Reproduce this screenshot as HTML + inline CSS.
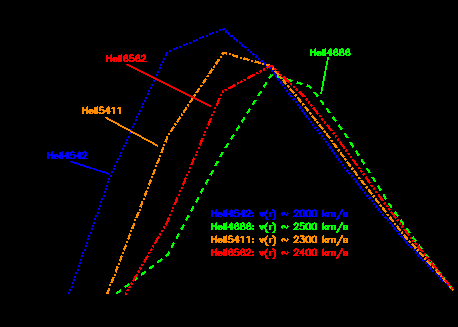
<!DOCTYPE html>
<html><head><meta charset="utf-8"><title>HeII line profiles</title>
<style>html,body{margin:0;padding:0;background:#000;}body{width:458px;height:327px;overflow:hidden;font-family:"Liberation Sans",sans-serif;}svg{display:block}</style></head>
<body>
<svg width="458" height="327" viewBox="0 0 458 327" shape-rendering="crispEdges">
<desc>HeII4542: v(r) ~ 2000 km/s; HeII4686: v(r) ~ 2500 km/s; HeII5411: v(r) ~ 2300 km/s; HeII6562: v(r) ~ 2400 km/s</desc>
<rect width="458" height="327" fill="#000"/>
<!-- HeII4542 blue dotted -->
<path fill="#0000ff" d="M223 28h2v1h-2zM219 29h2v1h-2zM222 29h3v1h-3zM219 30h2v1h-2zM223 30h1v1h-1zM225 30h2v1h-2zM216 31h2v1h-2zM225 31h2v1h-2zM212 32h2v1h-2zM216 32h2v1h-2zM225 32h2v1h-2zM228 32h1v1h-1zM209 33h2v1h-2zM212 33h2v1h-2zM227 33h3v1h-3zM209 34h2v1h-2zM228 34h2v1h-2zM206 35h2v1h-2zM230 35h3v1h-3zM202 36h2v1h-2zM206 36h2v1h-2zM230 36h3v1h-3zM199 37h2v1h-2zM202 37h2v1h-2zM233 37h2v1h-2zM199 38h2v1h-2zM233 38h2v1h-2zM196 39h2v1h-2zM234 39h1v1h-1zM236 39h1v1h-1zM193 40h2v1h-2zM196 40h2v1h-2zM236 40h2v1h-2zM193 41h2v1h-2zM236 41h2v1h-2zM239 41h1v1h-1zM189 42h2v1h-2zM239 42h2v1h-2zM186 43h2v1h-2zM189 43h2v1h-2zM239 43h2v1h-2zM183 44h2v1h-2zM186 44h2v1h-2zM241 44h2v1h-2zM183 45h2v1h-2zM241 45h3v1h-3zM179 46h2v1h-2zM242 46h1v1h-1zM244 46h2v1h-2zM176 47h2v1h-2zM179 47h2v1h-2zM244 47h3v1h-3zM173 48h2v1h-2zM176 48h2v1h-2zM245 48h1v1h-1zM173 49h2v1h-2zM247 49h2v1h-2zM169 50h2v1h-2zM247 50h2v1h-2zM169 51h2v1h-2zM250 51h2v1h-2zM166 52h2v1h-2zM250 52h2v1h-2zM166 53h2v1h-2zM252 53h2v1h-2zM165 54h2v1h-2zM252 54h3v1h-3zM165 55h2v1h-2zM253 55h1v1h-1zM256 55h1v1h-1zM255 56h3v1h-3zM255 57h2v1h-2zM163 58h2v1h-2zM258 58h2v1h-2zM163 59h2v1h-2zM258 59h2v1h-2zM261 60h2v1h-2zM162 61h2v1h-2zM260 61h3v1h-3zM162 62h2v1h-2zM263 62h2v1h-2zM264 63h2v1h-2zM160 64h2v1h-2zM264 64h1v1h-1zM160 65h2v1h-2zM266 66h1v1h-1zM159 67h2v1h-2zM270 67h1v1h-1zM159 68h2v1h-2zM269 68h2v1h-2zM271 70h2v1h-2zM157 71h2v1h-2zM271 71h2v1h-2zM157 72h2v1h-2zM274 72h1v1h-1zM273 73h3v1h-3zM156 74h2v1h-2zM273 74h2v1h-2zM156 75h2v1h-2zM275 75h2v1h-2zM275 76h2v1h-2zM155 77h1v1h-1zM276 77h1v1h-1zM278 78h2v1h-2zM277 79h3v1h-3zM153 80h2v1h-2zM278 80h1v1h-1zM153 81h2v1h-2zM280 81h2v1h-2zM280 82h2v1h-2zM280 83h1v1h-1zM151 84h2v1h-2zM282 84h2v1h-2zM151 85h2v1h-2zM282 85h2v1h-2zM150 87h2v1h-2zM284 87h2v1h-2zM150 88h2v1h-2zM284 88h2v1h-2zM287 89h1v1h-1zM148 90h2v1h-2zM286 90h2v1h-2zM148 91h2v1h-2zM286 91h2v1h-2zM289 92h1v1h-1zM147 93h2v1h-2zM288 93h3v1h-3zM147 94h2v1h-2zM288 94h2v1h-2zM290 95h2v1h-2zM290 96h3v1h-3zM145 97h2v1h-2zM145 98h2v1h-2zM293 98h2v1h-2zM292 99h3v1h-3zM144 100h2v1h-2zM293 100h1v1h-1zM144 101h2v1h-2zM295 101h2v1h-2zM295 102h2v1h-2zM142 103h2v1h-2zM142 104h2v1h-2zM297 104h2v1h-2zM297 105h2v1h-2zM141 106h2v1h-2zM300 106h1v1h-1zM141 107h2v1h-2zM299 107h2v1h-2zM299 108h2v1h-2zM302 109h1v1h-1zM139 110h2v1h-2zM301 110h3v1h-3zM139 111h2v1h-2zM301 111h2v1h-2zM303 112h2v1h-2zM138 113h2v1h-2zM303 113h3v1h-3zM138 114h2v1h-2zM304 114h1v1h-1zM306 115h2v1h-2zM136 116h2v1h-2zM305 116h3v1h-3zM136 117h2v1h-2zM306 117h1v1h-1zM308 118h2v1h-2zM135 119h2v1h-2zM308 119h2v1h-2zM135 120h2v1h-2zM310 121h2v1h-2zM310 122h2v1h-2zM133 123h2v1h-2zM313 123h1v1h-1zM133 124h2v1h-2zM312 124h2v1h-2zM312 125h2v1h-2zM132 126h2v1h-2zM315 126h1v1h-1zM132 127h2v1h-2zM314 127h3v1h-3zM314 128h2v1h-2zM130 129h2v1h-2zM317 129h2v1h-2zM131 130h1v1h-1zM316 130h3v1h-3zM317 131h1v1h-1zM129 132h2v1h-2zM319 132h2v1h-2zM129 133h2v1h-2zM318 133h3v1h-3zM319 134h1v1h-1zM321 135h2v1h-2zM128 136h2v1h-2zM321 136h2v1h-2zM128 137h2v1h-2zM321 137h1v1h-1zM323 138h2v1h-2zM126 139h2v1h-2zM323 139h2v1h-2zM126 140h2v1h-2zM325 141h2v1h-2zM125 142h2v1h-2zM325 142h2v1h-2zM125 143h2v1h-2zM328 143h1v1h-1zM327 144h2v1h-2zM123 145h2v1h-2zM327 145h2v1h-2zM123 146h2v1h-2zM330 146h1v1h-1zM329 147h3v1h-3zM122 148h2v1h-2zM329 148h2v1h-2zM122 149h2v1h-2zM332 149h1v1h-1zM331 150h3v1h-3zM52 151h1v1h-1zM62 151h1v1h-1zM67 151h1v1h-1zM71 151h3v1h-3zM79 151h1v1h-1zM84 151h2v1h-2zM331 151h2v1h-2zM47 152h2v1h-2zM51 152h2v1h-2zM59 152h4v1h-4zM66 152h3v1h-3zM70 152h5v1h-5zM78 152h3v1h-3zM82 152h5v1h-5zM120 152h2v1h-2zM333 152h2v1h-2zM47 153h2v1h-2zM51 153h2v1h-2zM59 153h4v1h-4zM65 153h4v1h-4zM70 153h2v1h-2zM77 153h4v1h-4zM82 153h2v1h-2zM85 153h2v1h-2zM120 153h2v1h-2zM333 153h3v1h-3zM47 154h6v1h-6zM54 154h4v1h-4zM59 154h4v1h-4zM65 154h4v1h-4zM70 154h5v1h-5zM77 154h4v1h-4zM82 154h1v1h-1zM85 154h2v1h-2zM334 154h1v1h-1zM47 155h16v1h-16zM64 155h5v1h-5zM70 155h2v1h-2zM73 155h8v1h-8zM84 155h3v1h-3zM119 155h2v1h-2zM336 155h2v1h-2zM47 156h2v1h-2zM51 156h19v1h-19zM74 156h8v1h-8zM83 156h3v1h-3zM119 156h2v1h-2zM335 156h3v1h-3zM47 157h2v1h-2zM51 157h5v1h-5zM57 157h6v1h-6zM66 157h6v1h-6zM73 157h3v1h-3zM78 157h3v1h-3zM82 157h3v1h-3zM336 157h1v1h-1zM47 158h2v1h-2zM51 158h2v1h-2zM54 158h4v1h-4zM59 158h4v1h-4zM66 158h3v1h-3zM70 158h5v1h-5zM78 158h10v1h-10zM117 158h2v1h-2zM338 158h2v1h-2zM117 159h2v1h-2zM338 159h2v1h-2zM338 160h1v1h-1zM70 161h4v1h-4zM116 161h2v1h-2zM340 161h2v1h-2zM71 162h6v1h-6zM116 162h2v1h-2zM340 162h2v1h-2zM74 163h6v1h-6zM77 164h6v1h-6zM342 164h2v1h-2zM80 165h6v1h-6zM114 165h2v1h-2zM342 165h2v1h-2zM83 166h6v1h-6zM114 166h2v1h-2zM86 167h6v1h-6zM344 167h2v1h-2zM89 168h6v1h-6zM113 168h2v1h-2zM344 168h2v1h-2zM93 169h5v1h-5zM113 169h2v1h-2zM347 169h1v1h-1zM96 170h5v1h-5zM346 170h3v1h-3zM99 171h6v1h-6zM111 171h2v1h-2zM346 171h2v1h-2zM102 172h6v1h-6zM111 172h2v1h-2zM348 172h2v1h-2zM105 173h4v1h-4zM348 173h3v1h-3zM108 174h1v1h-1zM349 174h1v1h-1zM110 175h2v1h-2zM351 175h2v1h-2zM110 176h2v1h-2zM351 176h2v1h-2zM351 177h1v1h-1zM108 178h2v1h-2zM353 178h2v1h-2zM108 179h2v1h-2zM353 179h2v1h-2zM356 180h1v1h-1zM107 181h2v1h-2zM355 181h2v1h-2zM107 182h2v1h-2zM355 182h2v1h-2zM357 183h2v1h-2zM357 184h3v1h-3zM106 185h2v1h-2zM358 185h1v1h-1zM106 186h2v1h-2zM360 186h2v1h-2zM359 187h3v1h-3zM105 188h2v1h-2zM360 188h1v1h-1zM105 189h2v1h-2zM362 189h2v1h-2zM362 190h2v1h-2zM104 191h2v1h-2zM365 191h1v1h-1zM104 192h2v1h-2zM364 192h2v1h-2zM364 193h2v1h-2zM367 194h1v1h-1zM103 195h2v1h-2zM366 195h3v1h-3zM103 196h2v1h-2zM366 196h2v1h-2zM369 197h2v1h-2zM101 198h2v1h-2zM368 198h3v1h-3zM101 199h2v1h-2zM369 199h1v1h-1zM371 200h2v1h-2zM100 201h2v1h-2zM371 201h2v1h-2zM100 202h2v1h-2zM373 203h2v1h-2zM373 204h2v1h-2zM99 205h2v1h-2zM376 205h1v1h-1zM99 206h2v1h-2zM375 206h3v1h-3zM375 207h2v1h-2zM98 208h2v1h-2zM378 208h2v1h-2zM98 209h2v1h-2zM216 209h1v1h-1zM226 209h1v1h-1zM231 209h1v1h-1zM235 209h3v1h-3zM243 209h1v1h-1zM248 209h2v1h-2zM267 209h1v1h-1zM272 209h2v1h-2zM295 209h2v1h-2zM302 209h1v1h-1zM308 209h1v1h-1zM314 209h1v1h-1zM323 209h1v1h-1zM341 209h2v1h-2zM377 209h3v1h-3zM211 210h2v1h-2zM215 210h2v1h-2zM223 210h4v1h-4zM230 210h3v1h-3zM234 210h5v1h-5zM242 210h3v1h-3zM246 210h5v1h-5zM266 210h2v1h-2zM272 210h3v1h-3zM294 210h5v1h-5zM300 210h5v1h-5zM306 210h5v1h-5zM312 210h5v1h-5zM322 210h2v1h-2zM341 210h2v1h-2zM378 210h1v1h-1zM211 211h2v1h-2zM215 211h2v1h-2zM223 211h4v1h-4zM229 211h4v1h-4zM234 211h2v1h-2zM241 211h4v1h-4zM246 211h2v1h-2zM249 211h2v1h-2zM265 211h2v1h-2zM273 211h3v1h-3zM293 211h3v1h-3zM297 211h5v1h-5zM303 211h5v1h-5zM309 211h5v1h-5zM315 211h2v1h-2zM322 211h2v1h-2zM340 211h3v1h-3zM380 211h2v1h-2zM97 212h2v1h-2zM211 212h6v1h-6zM218 212h4v1h-4zM223 212h4v1h-4zM229 212h4v1h-4zM234 212h5v1h-5zM241 212h4v1h-4zM246 212h1v1h-1zM249 212h2v1h-2zM252 212h2v1h-2zM259 212h2v1h-2zM262 212h5v1h-5zM269 212h4v1h-4zM274 212h2v1h-2zM282 212h3v1h-3zM287 212h1v1h-1zM294 212h1v1h-1zM297 212h4v1h-4zM303 212h4v1h-4zM309 212h4v1h-4zM315 212h2v1h-2zM322 212h2v1h-2zM325 212h11v1h-11zM340 212h2v1h-2zM343 212h5v1h-5zM380 212h2v1h-2zM97 213h2v1h-2zM211 213h16v1h-16zM228 213h5v1h-5zM234 213h2v1h-2zM237 213h8v1h-8zM248 213h3v1h-3zM252 213h2v1h-2zM259 213h8v1h-8zM269 213h2v1h-2zM274 213h2v1h-2zM281 213h5v1h-5zM287 213h2v1h-2zM296 213h2v1h-2zM299 213h2v1h-2zM303 213h4v1h-4zM309 213h4v1h-4zM315 213h2v1h-2zM322 213h8v1h-8zM331 213h2v1h-2zM334 213h2v1h-2zM339 213h2v1h-2zM343 213h2v1h-2zM346 213h2v1h-2zM383 213h1v1h-1zM211 214h2v1h-2zM215 214h19v1h-19zM238 214h8v1h-8zM247 214h3v1h-3zM260 214h6v1h-6zM269 214h2v1h-2zM274 214h2v1h-2zM281 214h2v1h-2zM284 214h4v1h-4zM295 214h3v1h-3zM299 214h2v1h-2zM303 214h4v1h-4zM309 214h4v1h-4zM315 214h2v1h-2zM322 214h4v1h-4zM327 214h2v1h-2zM331 214h2v1h-2zM334 214h2v1h-2zM339 214h2v1h-2zM343 214h5v1h-5zM382 214h2v1h-2zM95 215h2v1h-2zM211 215h2v1h-2zM215 215h5v1h-5zM221 215h6v1h-6zM230 215h6v1h-6zM237 215h3v1h-3zM242 215h3v1h-3zM246 215h3v1h-3zM252 215h2v1h-2zM260 215h3v1h-3zM264 215h2v1h-2zM269 215h2v1h-2zM274 215h2v1h-2zM282 215h1v1h-1zM286 215h1v1h-1zM294 215h3v1h-3zM299 215h3v1h-3zM303 215h5v1h-5zM309 215h5v1h-5zM315 215h2v1h-2zM322 215h7v1h-7zM331 215h2v1h-2zM334 215h2v1h-2zM338 215h2v1h-2zM343 215h2v1h-2zM346 215h2v1h-2zM382 215h2v1h-2zM95 216h2v1h-2zM211 216h2v1h-2zM215 216h2v1h-2zM218 216h4v1h-4zM223 216h4v1h-4zM230 216h3v1h-3zM234 216h5v1h-5zM242 216h12v1h-12zM261 216h2v1h-2zM265 216h2v1h-2zM269 216h2v1h-2zM274 216h2v1h-2zM293 216h6v1h-6zM300 216h5v1h-5zM306 216h5v1h-5zM312 216h5v1h-5zM322 216h2v1h-2zM325 216h4v1h-4zM331 216h2v1h-2zM334 216h2v1h-2zM337 216h3v1h-3zM343 216h5v1h-5zM385 216h1v1h-1zM265 217h2v1h-2zM274 217h2v1h-2zM337 217h2v1h-2zM384 217h3v1h-3zM94 218h2v1h-2zM265 218h3v1h-3zM273 218h2v1h-2zM336 218h3v1h-3zM385 218h2v1h-2zM94 219h2v1h-2zM266 219h3v1h-3zM272 219h3v1h-3zM336 219h2v1h-2zM387 219h2v1h-2zM387 220h2v1h-2zM387 221h1v1h-1zM93 222h2v1h-2zM389 222h2v1h-2zM93 223h2v1h-2zM389 223h2v1h-2zM392 224h1v1h-1zM92 225h2v1h-2zM391 225h3v1h-3zM92 226h2v1h-2zM392 226h2v1h-2zM394 227h1v1h-1zM91 228h2v1h-2zM393 228h3v1h-3zM91 229h2v1h-2zM394 229h2v1h-2zM396 230h2v1h-2zM396 231h3v1h-3zM90 232h2v1h-2zM399 232h1v1h-1zM90 233h2v1h-2zM398 233h2v1h-2zM398 234h3v1h-3zM88 235h2v1h-2zM401 235h1v1h-1zM88 236h2v1h-2zM400 236h3v1h-3zM401 237h2v1h-2zM87 238h2v1h-2zM403 238h2v1h-2zM87 239h2v1h-2zM403 239h3v1h-3zM404 240h1v1h-1zM405 241h3v1h-3zM86 242h2v1h-2zM405 242h3v1h-3zM86 243h2v1h-2zM406 243h1v1h-1zM407 244h3v1h-3zM85 245h2v1h-2zM408 245h2v1h-2zM85 246h2v1h-2zM410 246h2v1h-2zM410 247h3v1h-3zM411 248h1v1h-1zM84 249h2v1h-2zM413 249h2v1h-2zM84 250h2v1h-2zM413 250h2v1h-2zM416 251h1v1h-1zM82 252h2v1h-2zM415 252h3v1h-3zM82 253h2v1h-2zM415 253h2v1h-2zM418 254h2v1h-2zM81 255h2v1h-2zM417 255h3v1h-3zM81 256h2v1h-2zM418 256h1v1h-1zM420 257h2v1h-2zM420 258h2v1h-2zM80 259h2v1h-2zM422 259h2v1h-2zM80 260h2v1h-2zM422 260h3v1h-3zM423 261h1v1h-1zM79 262h2v1h-2zM425 262h2v1h-2zM79 263h2v1h-2zM425 263h2v1h-2zM428 264h1v1h-1zM78 265h2v1h-2zM427 265h3v1h-3zM78 266h2v1h-2zM427 266h2v1h-2zM430 267h2v1h-2zM429 268h3v1h-3zM77 269h2v1h-2zM430 269h1v1h-1zM77 270h2v1h-2zM432 270h2v1h-2zM432 271h2v1h-2zM75 272h2v1h-2zM75 273h2v1h-2zM435 273h2v1h-2zM435 274h2v1h-2zM437 275h2v1h-2zM74 276h2v1h-2zM437 276h2v1h-2zM74 277h2v1h-2zM440 277h2v1h-2zM439 278h3v1h-3zM73 279h2v1h-2zM440 279h1v1h-1zM73 280h2v1h-2zM442 280h1v1h-1zM442 281h2v1h-2zM72 282h2v1h-2zM72 283h2v1h-2zM445 283h2v1h-2zM447 285h1v1h-1zM71 286h2v1h-2zM448 286h1v1h-1zM71 287h2v1h-2zM69 289h2v1h-2zM69 290h2v1h-2zM68 292h2v1h-2zM68 293h2v1h-2z"/>
<!-- HeII4686 green dashed -->
<path fill="#00ff00" d="M315 48h1v1h-1zM325 48h1v1h-1zM330 48h1v1h-1zM335 48h2v1h-2zM341 48h2v1h-2zM347 48h2v1h-2zM310 49h2v1h-2zM314 49h2v1h-2zM322 49h4v1h-4zM329 49h3v1h-3zM334 49h4v1h-4zM339 49h5v1h-5zM346 49h4v1h-4zM310 50h2v1h-2zM314 50h2v1h-2zM322 50h4v1h-4zM328 50h4v1h-4zM333 50h2v1h-2zM336 50h2v1h-2zM339 50h2v1h-2zM342 50h2v1h-2zM345 50h2v1h-2zM348 50h2v1h-2zM310 51h6v1h-6zM317 51h4v1h-4zM322 51h4v1h-4zM328 51h4v1h-4zM333 51h5v1h-5zM339 51h5v1h-5zM345 51h5v1h-5zM310 52h16v1h-16zM327 52h5v1h-5zM333 52h5v1h-5zM339 52h5v1h-5zM345 52h5v1h-5zM310 53h2v1h-2zM314 53h21v1h-21zM337 53h4v1h-4zM343 53h4v1h-4zM349 53h2v1h-2zM310 54h2v1h-2zM314 54h5v1h-5zM320 54h6v1h-6zM329 54h3v1h-3zM333 54h2v1h-2zM336 54h5v1h-5zM343 54h4v1h-4zM348 54h3v1h-3zM310 55h2v1h-2zM314 55h2v1h-2zM317 55h4v1h-4zM322 55h4v1h-4zM329 55h3v1h-3zM334 55h4v1h-4zM339 55h5v1h-5zM346 55h4v1h-4zM327 57h2v1h-2zM327 58h2v1h-2zM327 59h2v1h-2zM327 60h1v1h-1zM326 61h2v1h-2zM326 62h2v1h-2zM326 63h2v1h-2zM326 64h2v1h-2zM326 65h1v1h-1zM325 66h2v1h-2zM325 67h2v1h-2zM325 68h2v1h-2zM325 69h2v1h-2zM325 70h1v1h-1zM324 71h2v1h-2zM324 72h2v1h-2zM324 73h2v1h-2zM270 74h1v1h-1zM272 74h1v1h-1zM324 74h2v1h-2zM270 75h3v1h-3zM324 75h2v1h-2zM269 76h3v1h-3zM277 76h3v1h-3zM323 76h2v1h-2zM268 77h3v1h-3zM277 77h2v1h-2zM323 77h2v1h-2zM269 78h1v1h-1zM282 78h1v1h-1zM287 78h1v1h-1zM323 78h2v1h-2zM288 79h3v1h-3zM323 79h2v1h-2zM289 80h4v1h-4zM323 80h2v1h-2zM290 81h2v1h-2zM297 81h1v1h-1zM322 81h2v1h-2zM265 82h2v1h-2zM297 82h4v1h-4zM322 82h2v1h-2zM265 83h2v1h-2zM296 83h7v1h-7zM322 83h2v1h-2zM264 84h3v1h-3zM300 84h2v1h-2zM307 84h1v1h-1zM322 84h2v1h-2zM263 85h3v1h-3zM307 85h3v1h-3zM322 85h2v1h-2zM263 86h2v1h-2zM306 86h5v1h-5zM322 86h1v1h-1zM264 87h1v1h-1zM309 87h3v1h-3zM321 87h2v1h-2zM310 88h1v1h-1zM321 88h2v1h-2zM321 89h2v1h-2zM321 90h2v1h-2zM260 91h2v1h-2zM321 91h1v1h-1zM259 92h3v1h-3zM313 92h3v1h-3zM320 92h2v1h-2zM258 93h3v1h-3zM314 93h3v1h-3zM320 93h2v1h-2zM258 94h2v1h-2zM315 94h3v1h-3zM257 95h3v1h-3zM316 95h3v1h-3zM316 96h2v1h-2zM254 100h3v1h-3zM320 100h2v1h-2zM253 101h3v1h-3zM320 101h3v1h-3zM253 102h2v1h-2zM321 102h3v1h-3zM252 103h3v1h-3zM322 103h2v1h-2zM252 104h2v1h-2zM322 104h2v1h-2zM249 108h1v1h-1zM326 108h2v1h-2zM248 109h3v1h-3zM326 109h3v1h-3zM248 110h2v1h-2zM327 110h2v1h-2zM247 111h3v1h-3zM327 111h3v1h-3zM246 112h3v1h-3zM328 112h3v1h-3zM247 113h1v1h-1zM333 116h1v1h-1zM243 117h2v1h-2zM332 117h3v1h-3zM243 118h2v1h-2zM332 118h3v1h-3zM242 119h3v1h-3zM333 119h3v1h-3zM241 120h3v1h-3zM334 120h3v1h-3zM241 121h2v1h-2zM335 121h1v1h-1zM242 122h1v1h-1zM339 124h1v1h-1zM238 125h1v1h-1zM338 125h2v1h-2zM238 126h2v1h-2zM338 126h3v1h-3zM237 127h3v1h-3zM339 127h3v1h-3zM236 128h3v1h-3zM340 128h3v1h-3zM236 129h2v1h-2zM340 129h2v1h-2zM236 130h2v1h-2zM344 133h2v1h-2zM233 134h1v1h-1zM344 134h3v1h-3zM232 135h3v1h-3zM345 135h2v1h-2zM231 136h3v1h-3zM345 136h3v1h-3zM231 137h2v1h-2zM346 137h3v1h-3zM230 138h3v1h-3zM231 139h1v1h-1zM349 142h3v1h-3zM227 143h2v1h-2zM350 143h3v1h-3zM226 144h3v1h-3zM350 144h3v1h-3zM226 145h2v1h-2zM351 145h3v1h-3zM225 146h3v1h-3zM352 146h2v1h-2zM224 147h3v1h-3zM352 147h1v1h-1zM356 150h1v1h-1zM355 151h3v1h-3zM221 152h3v1h-3zM356 152h2v1h-2zM221 153h2v1h-2zM356 153h3v1h-3zM220 154h3v1h-3zM357 154h3v1h-3zM220 155h2v1h-2zM357 155h2v1h-2zM219 156h3v1h-3zM361 159h2v1h-2zM361 160h2v1h-2zM216 161h3v1h-3zM361 161h3v1h-3zM216 162h3v1h-3zM362 162h3v1h-3zM215 163h3v1h-3zM363 163h2v1h-2zM215 164h2v1h-2zM363 164h1v1h-1zM214 165h3v1h-3zM366 168h2v1h-2zM366 169h3v1h-3zM212 170h2v1h-2zM367 170h3v1h-3zM211 171h3v1h-3zM368 171h2v1h-2zM211 172h2v1h-2zM368 172h3v1h-3zM210 173h3v1h-3zM209 174h3v1h-3zM211 175h1v1h-1zM371 177h3v1h-3zM372 178h3v1h-3zM207 179h2v1h-2zM373 179h2v1h-2zM206 180h3v1h-3zM373 180h3v1h-3zM206 181h2v1h-2zM374 181h2v1h-2zM205 182h3v1h-3zM205 183h2v1h-2zM206 184h1v1h-1zM378 185h1v1h-1zM377 186h3v1h-3zM378 187h2v1h-2zM202 188h2v1h-2zM378 188h3v1h-3zM201 189h3v1h-3zM379 189h3v1h-3zM201 190h2v1h-2zM379 190h2v1h-2zM200 191h3v1h-3zM200 192h2v1h-2zM201 193h1v1h-1zM383 194h2v1h-2zM383 195h2v1h-2zM383 196h3v1h-3zM197 197h2v1h-2zM384 197h2v1h-2zM197 198h2v1h-2zM384 198h3v1h-3zM196 199h3v1h-3zM385 199h1v1h-1zM196 200h2v1h-2zM195 201h3v1h-3zM196 202h1v1h-1zM388 203h2v1h-2zM388 204h3v1h-3zM389 205h3v1h-3zM192 206h2v1h-2zM390 206h2v1h-2zM192 207h2v1h-2zM390 207h2v1h-2zM191 208h3v1h-3zM191 209h2v1h-2zM190 210h3v1h-3zM191 211h1v1h-1zM395 211h1v1h-1zM394 212h3v1h-3zM394 213h3v1h-3zM395 214h3v1h-3zM187 215h2v1h-2zM396 215h3v1h-3zM187 216h3v1h-3zM397 216h1v1h-1zM186 217h3v1h-3zM186 218h2v1h-2zM185 219h3v1h-3zM401 219h1v1h-1zM186 220h1v1h-1zM400 220h2v1h-2zM400 221h3v1h-3zM216 222h1v1h-1zM226 222h1v1h-1zM231 222h1v1h-1zM236 222h2v1h-2zM242 222h2v1h-2zM248 222h2v1h-2zM267 222h1v1h-1zM272 222h2v1h-2zM295 222h2v1h-2zM300 222h4v1h-4zM308 222h1v1h-1zM314 222h1v1h-1zM323 222h1v1h-1zM341 222h2v1h-2zM401 222h3v1h-3zM211 223h2v1h-2zM215 223h2v1h-2zM223 223h4v1h-4zM230 223h3v1h-3zM235 223h4v1h-4zM240 223h5v1h-5zM247 223h4v1h-4zM266 223h2v1h-2zM272 223h3v1h-3zM294 223h5v1h-5zM300 223h5v1h-5zM306 223h5v1h-5zM312 223h5v1h-5zM322 223h2v1h-2zM341 223h2v1h-2zM402 223h2v1h-2zM183 224h1v1h-1zM211 224h2v1h-2zM215 224h2v1h-2zM223 224h4v1h-4zM229 224h4v1h-4zM234 224h2v1h-2zM237 224h2v1h-2zM240 224h2v1h-2zM243 224h2v1h-2zM246 224h2v1h-2zM249 224h2v1h-2zM265 224h2v1h-2zM273 224h3v1h-3zM293 224h3v1h-3zM297 224h2v1h-2zM300 224h2v1h-2zM305 224h3v1h-3zM309 224h5v1h-5zM315 224h2v1h-2zM322 224h2v1h-2zM340 224h3v1h-3zM402 224h2v1h-2zM182 225h3v1h-3zM211 225h6v1h-6zM218 225h4v1h-4zM223 225h4v1h-4zM229 225h4v1h-4zM234 225h5v1h-5zM240 225h5v1h-5zM246 225h5v1h-5zM252 225h2v1h-2zM259 225h2v1h-2zM262 225h5v1h-5zM269 225h4v1h-4zM274 225h2v1h-2zM282 225h3v1h-3zM287 225h1v1h-1zM294 225h1v1h-1zM297 225h2v1h-2zM300 225h7v1h-7zM309 225h4v1h-4zM315 225h2v1h-2zM322 225h2v1h-2zM325 225h11v1h-11zM340 225h2v1h-2zM343 225h5v1h-5zM182 226h2v1h-2zM211 226h16v1h-16zM228 226h5v1h-5zM234 226h5v1h-5zM240 226h5v1h-5zM246 226h5v1h-5zM252 226h2v1h-2zM259 226h8v1h-8zM269 226h2v1h-2zM274 226h2v1h-2zM281 226h5v1h-5zM287 226h2v1h-2zM296 226h2v1h-2zM300 226h1v1h-1zM303 226h4v1h-4zM309 226h4v1h-4zM315 226h2v1h-2zM322 226h8v1h-8zM331 226h2v1h-2zM334 226h2v1h-2zM339 226h2v1h-2zM343 226h2v1h-2zM346 226h2v1h-2zM181 227h3v1h-3zM211 227h2v1h-2zM215 227h21v1h-21zM238 227h4v1h-4zM244 227h4v1h-4zM250 227h2v1h-2zM260 227h6v1h-6zM269 227h2v1h-2zM274 227h2v1h-2zM281 227h2v1h-2zM284 227h4v1h-4zM295 227h3v1h-3zM303 227h4v1h-4zM309 227h4v1h-4zM315 227h2v1h-2zM322 227h4v1h-4zM327 227h2v1h-2zM331 227h2v1h-2zM334 227h2v1h-2zM339 227h2v1h-2zM343 227h5v1h-5zM180 228h3v1h-3zM211 228h2v1h-2zM215 228h5v1h-5zM221 228h6v1h-6zM230 228h3v1h-3zM234 228h2v1h-2zM237 228h5v1h-5zM244 228h4v1h-4zM249 228h5v1h-5zM260 228h3v1h-3zM264 228h2v1h-2zM269 228h2v1h-2zM274 228h2v1h-2zM282 228h1v1h-1zM286 228h1v1h-1zM294 228h3v1h-3zM299 228h2v1h-2zM303 228h5v1h-5zM309 228h5v1h-5zM315 228h2v1h-2zM322 228h7v1h-7zM331 228h2v1h-2zM334 228h2v1h-2zM338 228h2v1h-2zM343 228h2v1h-2zM346 228h2v1h-2zM406 228h2v1h-2zM181 229h2v1h-2zM211 229h2v1h-2zM215 229h2v1h-2zM218 229h4v1h-4zM223 229h4v1h-4zM230 229h3v1h-3zM235 229h4v1h-4zM240 229h5v1h-5zM247 229h4v1h-4zM252 229h2v1h-2zM261 229h2v1h-2zM265 229h2v1h-2zM269 229h2v1h-2zM274 229h2v1h-2zM293 229h6v1h-6zM300 229h5v1h-5zM306 229h5v1h-5zM312 229h5v1h-5zM322 229h2v1h-2zM325 229h4v1h-4zM331 229h2v1h-2zM334 229h2v1h-2zM337 229h3v1h-3zM343 229h5v1h-5zM406 229h3v1h-3zM265 230h2v1h-2zM274 230h2v1h-2zM337 230h2v1h-2zM407 230h2v1h-2zM265 231h3v1h-3zM273 231h2v1h-2zM336 231h3v1h-3zM408 231h2v1h-2zM266 232h3v1h-3zM272 232h3v1h-3zM336 232h2v1h-2zM408 232h3v1h-3zM178 233h1v1h-1zM177 234h3v1h-3zM177 235h2v1h-2zM176 236h3v1h-3zM413 236h1v1h-1zM176 237h2v1h-2zM412 237h2v1h-2zM176 238h2v1h-2zM412 238h3v1h-3zM414 239h2v1h-2zM415 240h2v1h-2zM414 241h2v1h-2zM173 242h1v1h-1zM172 243h3v1h-3zM172 244h2v1h-2zM419 244h1v1h-1zM171 245h3v1h-3zM419 245h1v1h-1zM171 246h2v1h-2zM420 246h1v1h-1zM171 247h2v1h-2zM420 247h2v1h-2zM421 248h2v1h-2zM168 251h1v1h-1zM168 252h2v1h-2zM167 253h3v1h-3zM166 254h3v1h-3zM426 254h1v1h-1zM165 255h4v1h-4zM425 255h3v1h-3zM166 256h1v1h-1zM428 256h1v1h-1zM161 258h1v1h-1zM160 259h3v1h-3zM158 260h4v1h-4zM157 261h4v1h-4zM431 261h1v1h-1zM157 262h2v1h-2zM430 262h1v1h-1zM433 263h1v1h-1zM434 264h1v1h-1zM152 265h2v1h-2zM150 266h4v1h-4zM149 267h4v1h-4zM149 268h3v1h-3zM437 269h1v1h-1zM144 271h2v1h-2zM142 272h4v1h-4zM440 272h1v1h-1zM141 273h4v1h-4zM141 274h3v1h-3zM439 274h1v1h-1zM141 275h1v1h-1zM136 277h1v1h-1zM444 277h1v1h-1zM136 278h2v1h-2zM135 279h2v1h-2zM135 280h1v1h-1zM128 283h1v1h-1zM127 284h3v1h-3zM125 285h4v1h-4zM124 286h4v1h-4zM449 286h2v1h-2zM125 287h1v1h-1zM120 289h1v1h-1zM119 290h2v1h-2zM117 291h4v1h-4zM116 292h4v1h-4zM116 293h2v1h-2z"/>
<!-- HeII5411 orange dash-dot -->
<path fill="#ff8c00" d="M222 52h5v1h-5zM221 53h6v1h-6zM229 53h2v1h-2zM222 54h2v1h-2zM226 54h1v1h-1zM229 54h2v1h-2zM232 54h2v1h-2zM232 55h6v1h-6zM220 56h2v1h-2zM233 56h5v1h-5zM220 57h2v1h-2zM236 57h2v1h-2zM240 57h2v1h-2zM244 57h1v1h-1zM240 58h2v1h-2zM243 58h5v1h-5zM217 59h3v1h-3zM243 59h7v1h-7zM217 60h3v1h-3zM247 60h2v1h-2zM251 60h2v1h-2zM255 60h1v1h-1zM216 61h3v1h-3zM251 61h2v1h-2zM255 61h4v1h-4zM215 62h3v1h-3zM254 62h7v1h-7zM215 63h3v1h-3zM258 63h3v1h-3zM262 63h2v1h-2zM216 64h1v1h-1zM262 64h2v1h-2zM266 64h4v1h-4zM214 65h1v1h-1zM266 65h3v1h-3zM213 66h2v1h-2zM213 67h2v1h-2zM273 67h1v1h-1zM211 68h1v1h-1zM272 68h2v1h-2zM211 69h3v1h-3zM272 69h2v1h-2zM210 70h3v1h-3zM209 71h3v1h-3zM274 71h3v1h-3zM209 72h3v1h-3zM275 72h2v1h-2zM208 73h3v1h-3zM276 73h3v1h-3zM277 74h3v1h-3zM207 75h2v1h-2zM277 75h2v1h-2zM206 76h3v1h-3zM280 76h1v1h-1zM279 77h3v1h-3zM205 78h1v1h-1zM280 78h2v1h-2zM204 79h3v1h-3zM283 79h1v1h-1zM203 80h3v1h-3zM282 80h3v1h-3zM203 81h3v1h-3zM283 81h3v1h-3zM202 82h3v1h-3zM283 82h3v1h-3zM203 83h1v1h-1zM284 83h3v1h-3zM285 84h1v1h-1zM200 85h3v1h-3zM287 85h2v1h-2zM200 86h2v1h-2zM287 86h3v1h-3zM288 87h1v1h-1zM198 88h2v1h-2zM290 88h1v1h-1zM197 89h3v1h-3zM289 89h3v1h-3zM197 90h2v1h-2zM290 90h3v1h-3zM196 91h3v1h-3zM291 91h3v1h-3zM195 92h3v1h-3zM292 92h3v1h-3zM293 93h1v1h-1zM194 94h2v1h-2zM295 94h2v1h-2zM193 95h3v1h-3zM294 95h3v1h-3zM194 96h1v1h-1zM295 96h1v1h-1zM297 97h2v1h-2zM191 98h2v1h-2zM297 98h3v1h-3zM191 99h2v1h-2zM298 99h3v1h-3zM190 100h3v1h-3zM298 100h3v1h-3zM189 101h3v1h-3zM299 101h3v1h-3zM189 102h2v1h-2zM300 102h1v1h-1zM302 103h2v1h-2zM187 104h2v1h-2zM302 104h3v1h-3zM187 105h2v1h-2zM302 105h1v1h-1zM87 106h1v1h-1zM97 106h1v1h-1zM100 106h3v1h-3zM108 106h1v1h-1zM188 106h1v1h-1zM305 106h1v1h-1zM82 107h2v1h-2zM86 107h2v1h-2zM94 107h4v1h-4zM99 107h5v1h-5zM107 107h3v1h-3zM112 107h3v1h-3zM118 107h3v1h-3zM185 107h2v1h-2zM304 107h3v1h-3zM82 108h2v1h-2zM86 108h2v1h-2zM94 108h4v1h-4zM99 108h2v1h-2zM106 108h4v1h-4zM111 108h4v1h-4zM117 108h4v1h-4zM185 108h2v1h-2zM305 108h3v1h-3zM82 109h6v1h-6zM89 109h4v1h-4zM94 109h4v1h-4zM99 109h5v1h-5zM106 109h4v1h-4zM113 109h2v1h-2zM119 109h2v1h-2zM184 109h3v1h-3zM306 109h3v1h-3zM82 110h16v1h-16zM99 110h2v1h-2zM102 110h8v1h-8zM113 110h2v1h-2zM119 110h2v1h-2zM183 110h3v1h-3zM306 110h3v1h-3zM82 111h2v1h-2zM86 111h12v1h-12zM103 111h8v1h-8zM113 111h2v1h-2zM119 111h2v1h-2zM183 111h2v1h-2zM307 111h1v1h-1zM82 112h2v1h-2zM86 112h5v1h-5zM92 112h9v1h-9zM102 112h3v1h-3zM107 112h3v1h-3zM113 112h2v1h-2zM119 112h2v1h-2zM183 112h2v1h-2zM309 112h2v1h-2zM82 113h2v1h-2zM86 113h2v1h-2zM89 113h4v1h-4zM94 113h4v1h-4zM99 113h5v1h-5zM107 113h3v1h-3zM113 113h2v1h-2zM119 113h2v1h-2zM181 113h1v1h-1zM309 113h3v1h-3zM181 114h2v1h-2zM310 114h1v1h-1zM181 115h2v1h-2zM312 115h1v1h-1zM179 116h1v1h-1zM311 116h3v1h-3zM105 117h3v1h-3zM179 117h2v1h-2zM312 117h3v1h-3zM106 118h3v1h-3zM178 118h3v1h-3zM313 118h3v1h-3zM107 119h4v1h-4zM177 119h3v1h-3zM314 119h3v1h-3zM109 120h4v1h-4zM177 120h2v1h-2zM314 120h2v1h-2zM111 121h4v1h-4zM176 121h3v1h-3zM316 121h2v1h-2zM113 122h4v1h-4zM177 122h1v1h-1zM316 122h3v1h-3zM115 123h4v1h-4zM174 123h2v1h-2zM317 123h1v1h-1zM117 124h3v1h-3zM174 124h3v1h-3zM319 124h2v1h-2zM118 125h4v1h-4zM175 125h1v1h-1zM318 125h3v1h-3zM120 126h4v1h-4zM173 126h1v1h-1zM319 126h3v1h-3zM122 127h4v1h-4zM172 127h3v1h-3zM320 127h3v1h-3zM124 128h4v1h-4zM171 128h3v1h-3zM321 128h3v1h-3zM126 129h4v1h-4zM171 129h2v1h-2zM322 129h1v1h-1zM128 130h3v1h-3zM170 130h3v1h-3zM324 130h1v1h-1zM130 131h3v1h-3zM170 131h2v1h-2zM323 131h3v1h-3zM131 132h4v1h-4zM324 132h2v1h-2zM133 133h4v1h-4zM168 133h2v1h-2zM326 133h2v1h-2zM135 134h4v1h-4zM168 134h2v1h-2zM326 134h2v1h-2zM137 135h4v1h-4zM326 135h3v1h-3zM139 136h3v1h-3zM166 136h2v1h-2zM327 136h3v1h-3zM141 137h3v1h-3zM166 137h2v1h-2zM328 137h3v1h-3zM142 138h4v1h-4zM166 138h2v1h-2zM329 138h1v1h-1zM144 139h4v1h-4zM165 139h3v1h-3zM146 140h4v1h-4zM165 140h2v1h-2zM330 140h3v1h-3zM148 141h4v1h-4zM164 141h3v1h-3zM331 141h2v1h-2zM150 142h4v1h-4zM166 142h1v1h-1zM152 143h3v1h-3zM332 143h3v1h-3zM153 144h4v1h-4zM163 144h2v1h-2zM333 144h3v1h-3zM155 145h3v1h-3zM163 145h2v1h-2zM334 145h3v1h-3zM157 146h1v1h-1zM334 146h3v1h-3zM162 147h2v1h-2zM335 147h3v1h-3zM162 148h2v1h-2zM161 149h3v1h-3zM338 149h2v1h-2zM161 150h2v1h-2zM337 150h3v1h-3zM161 151h2v1h-2zM338 151h1v1h-1zM160 152h3v1h-3zM340 152h2v1h-2zM340 153h2v1h-2zM340 154h3v1h-3zM159 155h2v1h-2zM341 155h3v1h-3zM159 156h2v1h-2zM342 156h3v1h-3zM343 157h1v1h-1zM158 158h2v1h-2zM344 158h2v1h-2zM158 159h2v1h-2zM344 159h3v1h-3zM157 160h3v1h-3zM345 160h1v1h-1zM157 161h2v1h-2zM347 161h1v1h-1zM156 162h3v1h-3zM346 162h3v1h-3zM156 163h2v1h-2zM347 163h3v1h-3zM348 164h3v1h-3zM155 165h2v1h-2zM348 165h3v1h-3zM155 166h2v1h-2zM349 166h2v1h-2zM352 167h1v1h-1zM351 168h3v1h-3zM154 169h2v1h-2zM351 169h2v1h-2zM153 170h3v1h-3zM354 170h1v1h-1zM153 171h2v1h-2zM353 171h3v1h-3zM153 172h2v1h-2zM354 172h3v1h-3zM152 173h3v1h-3zM355 173h2v1h-2zM152 174h2v1h-2zM355 174h3v1h-3zM356 175h2v1h-2zM151 176h2v1h-2zM151 177h2v1h-2zM358 177h2v1h-2zM358 178h3v1h-3zM150 179h1v1h-1zM149 180h3v1h-3zM360 180h3v1h-3zM149 181h3v1h-3zM361 181h3v1h-3zM149 182h2v1h-2zM361 182h3v1h-3zM148 183h3v1h-3zM362 183h3v1h-3zM148 184h2v1h-2zM363 184h3v1h-3zM149 185h1v1h-1zM366 186h2v1h-2zM147 187h2v1h-2zM365 187h3v1h-3zM147 188h2v1h-2zM366 188h1v1h-1zM368 189h2v1h-2zM146 190h1v1h-1zM368 190h3v1h-3zM145 191h3v1h-3zM368 191h3v1h-3zM145 192h2v1h-2zM369 192h3v1h-3zM144 193h3v1h-3zM370 193h3v1h-3zM144 194h3v1h-3zM371 194h1v1h-1zM144 195h2v1h-2zM373 195h2v1h-2zM145 196h1v1h-1zM372 196h3v1h-3zM373 197h1v1h-1zM143 198h2v1h-2zM375 198h2v1h-2zM143 199h2v1h-2zM375 199h2v1h-2zM375 200h3v1h-3zM141 201h2v1h-2zM376 201h3v1h-3zM141 202h2v1h-2zM377 202h3v1h-3zM141 203h2v1h-2zM378 203h1v1h-1zM140 204h3v1h-3zM380 204h1v1h-1zM140 205h2v1h-2zM379 205h3v1h-3zM139 206h3v1h-3zM380 206h2v1h-2zM141 207h1v1h-1zM382 207h2v1h-2zM382 208h3v1h-3zM139 209h2v1h-2zM382 209h3v1h-3zM139 210h2v1h-2zM383 210h3v1h-3zM384 211h3v1h-3zM137 212h3v1h-3zM385 212h1v1h-1zM137 213h2v1h-2zM136 214h3v1h-3zM386 214h3v1h-3zM136 215h3v1h-3zM387 215h2v1h-2zM136 216h2v1h-2zM390 216h1v1h-1zM135 217h3v1h-3zM389 217h3v1h-3zM389 218h3v1h-3zM134 219h2v1h-2zM390 219h3v1h-3zM134 220h2v1h-2zM391 220h3v1h-3zM392 221h2v1h-2zM133 223h2v1h-2zM394 223h2v1h-2zM133 224h2v1h-2zM394 224h2v1h-2zM132 225h3v1h-3zM397 225h1v1h-1zM132 226h2v1h-2zM396 226h3v1h-3zM131 227h3v1h-3zM397 227h2v1h-2zM131 228h3v1h-3zM397 228h3v1h-3zM398 229h3v1h-3zM130 230h2v1h-2zM399 230h2v1h-2zM130 231h2v1h-2zM402 231h1v1h-1zM401 232h2v1h-2zM129 233h1v1h-1zM401 233h2v1h-2zM129 234h2v1h-2zM404 234h1v1h-1zM128 235h3v1h-3zM216 235h1v1h-1zM226 235h1v1h-1zM229 235h3v1h-3zM237 235h1v1h-1zM267 235h1v1h-1zM272 235h2v1h-2zM295 235h2v1h-2zM300 235h4v1h-4zM308 235h1v1h-1zM314 235h1v1h-1zM323 235h1v1h-1zM341 235h2v1h-2zM403 235h3v1h-3zM128 236h2v1h-2zM211 236h2v1h-2zM215 236h2v1h-2zM223 236h4v1h-4zM228 236h5v1h-5zM236 236h3v1h-3zM241 236h3v1h-3zM247 236h3v1h-3zM266 236h2v1h-2zM272 236h3v1h-3zM294 236h5v1h-5zM300 236h5v1h-5zM306 236h5v1h-5zM312 236h5v1h-5zM322 236h2v1h-2zM341 236h2v1h-2zM404 236h3v1h-3zM128 237h2v1h-2zM211 237h2v1h-2zM215 237h2v1h-2zM223 237h4v1h-4zM228 237h2v1h-2zM235 237h4v1h-4zM240 237h4v1h-4zM246 237h4v1h-4zM265 237h2v1h-2zM273 237h3v1h-3zM293 237h3v1h-3zM297 237h2v1h-2zM302 237h2v1h-2zM305 237h3v1h-3zM309 237h5v1h-5zM315 237h2v1h-2zM322 237h2v1h-2zM340 237h3v1h-3zM404 237h4v1h-4zM127 238h3v1h-3zM211 238h6v1h-6zM218 238h4v1h-4zM223 238h4v1h-4zM228 238h5v1h-5zM235 238h4v1h-4zM242 238h2v1h-2zM248 238h2v1h-2zM252 238h2v1h-2zM259 238h2v1h-2zM262 238h5v1h-5zM269 238h4v1h-4zM274 238h2v1h-2zM282 238h3v1h-3zM287 238h1v1h-1zM294 238h1v1h-1zM297 238h2v1h-2zM301 238h6v1h-6zM309 238h4v1h-4zM315 238h2v1h-2zM322 238h2v1h-2zM325 238h11v1h-11zM340 238h2v1h-2zM343 238h5v1h-5zM405 238h3v1h-3zM128 239h1v1h-1zM211 239h16v1h-16zM228 239h2v1h-2zM231 239h8v1h-8zM242 239h2v1h-2zM248 239h2v1h-2zM252 239h2v1h-2zM259 239h8v1h-8zM269 239h2v1h-2zM274 239h2v1h-2zM281 239h5v1h-5zM287 239h2v1h-2zM296 239h2v1h-2zM302 239h5v1h-5zM309 239h4v1h-4zM315 239h2v1h-2zM322 239h8v1h-8zM331 239h2v1h-2zM334 239h2v1h-2zM339 239h2v1h-2zM343 239h2v1h-2zM346 239h2v1h-2zM406 239h2v1h-2zM211 240h2v1h-2zM215 240h12v1h-12zM232 240h8v1h-8zM242 240h2v1h-2zM248 240h2v1h-2zM260 240h6v1h-6zM269 240h2v1h-2zM274 240h2v1h-2zM281 240h2v1h-2zM284 240h4v1h-4zM295 240h3v1h-3zM303 240h4v1h-4zM309 240h4v1h-4zM315 240h2v1h-2zM322 240h4v1h-4zM327 240h2v1h-2zM331 240h2v1h-2zM334 240h2v1h-2zM339 240h2v1h-2zM343 240h5v1h-5zM409 240h1v1h-1zM126 241h2v1h-2zM211 241h2v1h-2zM215 241h5v1h-5zM221 241h9v1h-9zM231 241h3v1h-3zM236 241h3v1h-3zM242 241h2v1h-2zM248 241h2v1h-2zM252 241h2v1h-2zM260 241h3v1h-3zM264 241h2v1h-2zM269 241h2v1h-2zM274 241h2v1h-2zM282 241h1v1h-1zM286 241h1v1h-1zM294 241h3v1h-3zM299 241h2v1h-2zM303 241h5v1h-5zM309 241h5v1h-5zM315 241h2v1h-2zM322 241h7v1h-7zM331 241h2v1h-2zM334 241h2v1h-2zM338 241h2v1h-2zM343 241h2v1h-2zM346 241h2v1h-2zM408 241h3v1h-3zM126 242h2v1h-2zM211 242h2v1h-2zM215 242h2v1h-2zM218 242h4v1h-4zM223 242h4v1h-4zM228 242h5v1h-5zM236 242h3v1h-3zM242 242h2v1h-2zM248 242h2v1h-2zM252 242h2v1h-2zM261 242h2v1h-2zM265 242h2v1h-2zM269 242h2v1h-2zM274 242h2v1h-2zM293 242h6v1h-6zM300 242h5v1h-5zM306 242h5v1h-5zM312 242h5v1h-5zM322 242h2v1h-2zM325 242h4v1h-4zM331 242h2v1h-2zM334 242h2v1h-2zM337 242h3v1h-3zM343 242h5v1h-5zM409 242h2v1h-2zM265 243h2v1h-2zM274 243h2v1h-2zM337 243h2v1h-2zM412 243h1v1h-1zM125 244h1v1h-1zM265 244h3v1h-3zM273 244h2v1h-2zM336 244h3v1h-3zM411 244h3v1h-3zM125 245h2v1h-2zM266 245h3v1h-3zM272 245h3v1h-3zM336 245h2v1h-2zM412 245h3v1h-3zM124 246h3v1h-3zM413 246h3v1h-3zM124 247h2v1h-2zM414 247h3v1h-3zM123 248h3v1h-3zM414 248h2v1h-2zM123 249h2v1h-2zM417 249h2v1h-2zM124 250h1v1h-1zM416 250h3v1h-3zM417 251h1v1h-1zM122 252h2v1h-2zM419 252h2v1h-2zM122 253h2v1h-2zM419 253h3v1h-3zM420 254h3v1h-3zM121 255h1v1h-1zM421 255h3v1h-3zM120 256h3v1h-3zM422 256h2v1h-2zM120 257h2v1h-2zM425 257h1v1h-1zM120 258h2v1h-2zM424 258h2v1h-2zM119 259h3v1h-3zM424 259h2v1h-2zM119 260h2v1h-2zM427 260h1v1h-1zM120 261h1v1h-1zM426 261h3v1h-3zM427 262h3v1h-3zM118 263h2v1h-2zM428 263h3v1h-3zM118 264h2v1h-2zM429 264h2v1h-2zM430 265h1v1h-1zM116 266h2v1h-2zM432 266h1v1h-1zM116 267h3v1h-3zM432 267h2v1h-2zM116 268h2v1h-2zM433 268h1v1h-1zM115 269h3v1h-3zM436 269h1v1h-1zM115 270h2v1h-2zM435 270h2v1h-2zM115 271h2v1h-2zM436 271h1v1h-1zM116 272h1v1h-1zM436 272h4v1h-4zM437 273h3v1h-3zM114 274h2v1h-2zM438 274h1v1h-1zM114 275h2v1h-2zM441 275h1v1h-1zM440 276h2v1h-2zM112 277h3v1h-3zM112 278h2v1h-2zM442 278h3v1h-3zM111 279h3v1h-3zM443 279h2v1h-2zM111 280h3v1h-3zM443 280h1v1h-1zM111 281h2v1h-2zM444 281h1v1h-1zM110 282h3v1h-3zM445 282h1v1h-1zM109 284h2v1h-2zM109 285h2v1h-2zM451 286h1v1h-1zM449 287h2v1h-2zM108 288h2v1h-2zM450 288h1v1h-1zM108 289h2v1h-2zM452 289h2v1h-2zM107 290h3v1h-3zM452 290h1v1h-1zM107 291h2v1h-2zM106 292h3v1h-3zM106 293h3v1h-3z"/>
<!-- HeII6562 red dash-dot-dot-dot -->
<path fill="#ff0000" d="M111 54h1v1h-1zM121 54h1v1h-1zM125 54h2v1h-2zM130 54h3v1h-3zM137 54h2v1h-2zM143 54h2v1h-2zM106 55h2v1h-2zM110 55h2v1h-2zM118 55h4v1h-4zM124 55h4v1h-4zM129 55h5v1h-5zM136 55h4v1h-4zM141 55h5v1h-5zM106 56h2v1h-2zM110 56h2v1h-2zM118 56h4v1h-4zM123 56h2v1h-2zM126 56h2v1h-2zM129 56h2v1h-2zM135 56h2v1h-2zM138 56h2v1h-2zM141 56h2v1h-2zM144 56h2v1h-2zM106 57h6v1h-6zM113 57h4v1h-4zM118 57h4v1h-4zM123 57h5v1h-5zM129 57h5v1h-5zM135 57h5v1h-5zM141 57h1v1h-1zM144 57h2v1h-2zM106 58h16v1h-16zM123 58h5v1h-5zM129 58h2v1h-2zM132 58h8v1h-8zM143 58h3v1h-3zM106 59h2v1h-2zM110 59h12v1h-12zM123 59h2v1h-2zM127 59h2v1h-2zM133 59h4v1h-4zM139 59h2v1h-2zM142 59h3v1h-3zM106 60h2v1h-2zM110 60h5v1h-5zM116 60h6v1h-6zM123 60h2v1h-2zM126 60h5v1h-5zM132 60h5v1h-5zM138 60h6v1h-6zM106 61h2v1h-2zM110 61h2v1h-2zM113 61h4v1h-4zM118 61h4v1h-4zM124 61h4v1h-4zM129 61h5v1h-5zM136 61h11v1h-11zM126 64h3v1h-3zM127 65h4v1h-4zM269 65h4v1h-4zM129 66h4v1h-4zM267 66h7v1h-7zM131 67h4v1h-4zM266 67h4v1h-4zM272 67h1v1h-1zM133 68h4v1h-4zM263 68h2v1h-2zM267 68h1v1h-1zM274 68h2v1h-2zM135 69h4v1h-4zM263 69h2v1h-2zM274 69h3v1h-3zM137 70h4v1h-4zM260 70h2v1h-2zM263 70h2v1h-2zM275 70h1v1h-1zM139 71h4v1h-4zM259 71h3v1h-3zM277 71h2v1h-2zM141 72h4v1h-4zM256 72h2v1h-2zM260 72h1v1h-1zM277 72h2v1h-2zM143 73h4v1h-4zM256 73h3v1h-3zM145 74h4v1h-4zM252 74h3v1h-3zM280 74h2v1h-2zM147 75h4v1h-4zM250 75h5v1h-5zM280 75h2v1h-2zM149 76h4v1h-4zM248 76h5v1h-5zM283 76h2v1h-2zM151 77h4v1h-4zM247 77h4v1h-4zM282 77h4v1h-4zM153 78h4v1h-4zM247 78h3v1h-3zM283 78h4v1h-4zM155 79h4v1h-4zM243 79h3v1h-3zM284 79h4v1h-4zM157 80h4v1h-4zM241 80h1v1h-1zM244 80h2v1h-2zM285 80h4v1h-4zM159 81h4v1h-4zM240 81h3v1h-3zM286 81h4v1h-4zM161 82h4v1h-4zM237 82h2v1h-2zM240 82h2v1h-2zM288 82h1v1h-1zM163 83h4v1h-4zM237 83h2v1h-2zM290 83h2v1h-2zM165 84h4v1h-4zM233 84h2v1h-2zM237 84h1v1h-1zM290 84h2v1h-2zM167 85h4v1h-4zM232 85h4v1h-4zM291 85h1v1h-1zM169 86h4v1h-4zM230 86h5v1h-5zM293 86h2v1h-2zM171 87h4v1h-4zM228 87h5v1h-5zM293 87h2v1h-2zM173 88h4v1h-4zM228 88h3v1h-3zM296 88h1v1h-1zM175 89h4v1h-4zM224 89h3v1h-3zM295 89h3v1h-3zM177 90h4v1h-4zM222 90h1v1h-1zM225 90h2v1h-2zM296 90h2v1h-2zM179 91h4v1h-4zM222 91h2v1h-2zM299 91h2v1h-2zM181 92h4v1h-4zM222 92h2v1h-2zM298 92h4v1h-4zM183 93h4v1h-4zM299 93h4v1h-4zM185 94h4v1h-4zM220 94h2v1h-2zM300 94h4v1h-4zM187 95h4v1h-4zM220 95h2v1h-2zM301 95h4v1h-4zM189 96h4v1h-4zM302 96h4v1h-4zM191 97h4v1h-4zM193 98h4v1h-4zM218 98h3v1h-3zM306 98h2v1h-2zM195 99h4v1h-4zM218 99h2v1h-2zM305 99h3v1h-3zM197 100h4v1h-4zM217 100h3v1h-3zM306 100h1v1h-1zM199 101h4v1h-4zM217 101h2v1h-2zM308 101h2v1h-2zM201 102h4v1h-4zM217 102h2v1h-2zM308 102h2v1h-2zM203 103h4v1h-4zM216 103h3v1h-3zM308 103h1v1h-1zM205 104h4v1h-4zM216 104h2v1h-2zM310 104h2v1h-2zM207 105h4v1h-4zM216 105h2v1h-2zM310 105h3v1h-3zM209 106h2v1h-2zM311 106h1v1h-1zM214 107h2v1h-2zM313 107h2v1h-2zM214 108h2v1h-2zM312 108h3v1h-3zM313 109h3v1h-3zM314 110h3v1h-3zM213 111h2v1h-2zM315 111h3v1h-3zM213 112h2v1h-2zM316 112h2v1h-2zM316 113h3v1h-3zM211 114h2v1h-2zM317 114h1v1h-1zM211 115h2v1h-2zM319 115h2v1h-2zM319 116h3v1h-3zM210 118h2v1h-2zM321 118h2v1h-2zM209 119h3v1h-3zM321 119h3v1h-3zM209 120h2v1h-2zM322 120h1v1h-1zM208 121h3v1h-3zM324 121h2v1h-2zM208 122h3v1h-3zM324 122h2v1h-2zM208 123h2v1h-2zM324 123h1v1h-1zM207 124h3v1h-3zM327 124h1v1h-1zM208 125h1v1h-1zM326 125h3v1h-3zM327 126h3v1h-3zM206 127h2v1h-2zM328 127h2v1h-2zM206 128h2v1h-2zM328 128h3v1h-3zM329 129h3v1h-3zM330 130h3v1h-3zM204 131h2v1h-2zM204 132h2v1h-2zM333 132h2v1h-2zM332 133h3v1h-3zM203 134h2v1h-2zM333 134h1v1h-1zM203 135h2v1h-2zM335 135h2v1h-2zM335 136h2v1h-2zM335 137h1v1h-1zM201 138h3v1h-3zM338 138h1v1h-1zM201 139h2v1h-2zM337 139h2v1h-2zM200 140h3v1h-3zM337 140h2v1h-2zM200 141h3v1h-3zM340 141h1v1h-1zM200 142h2v1h-2zM339 142h3v1h-3zM199 143h3v1h-3zM340 143h2v1h-2zM199 144h2v1h-2zM340 144h3v1h-3zM200 145h1v1h-1zM341 145h3v1h-3zM342 146h3v1h-3zM198 147h2v1h-2zM343 147h2v1h-2zM198 148h2v1h-2zM343 148h2v1h-2zM346 149h1v1h-1zM345 150h3v1h-3zM196 151h2v1h-2zM345 151h2v1h-2zM196 152h2v1h-2zM347 153h3v1h-3zM195 154h2v1h-2zM348 154h2v1h-2zM195 155h2v1h-2zM350 156h2v1h-2zM193 157h1v1h-1zM350 157h2v1h-2zM193 158h2v1h-2zM192 159h3v1h-3zM352 159h2v1h-2zM192 160h2v1h-2zM352 160h3v1h-3zM192 161h2v1h-2zM353 161h3v1h-3zM191 162h3v1h-3zM354 162h2v1h-2zM191 163h2v1h-2zM354 163h3v1h-3zM190 164h3v1h-3zM355 164h3v1h-3zM356 165h2v1h-2zM189 167h2v1h-2zM358 167h2v1h-2zM189 168h2v1h-2zM358 168h3v1h-3zM360 170h2v1h-2zM188 171h2v1h-2zM360 171h3v1h-3zM188 172h2v1h-2zM361 172h1v1h-1zM363 173h2v1h-2zM186 174h2v1h-2zM362 174h3v1h-3zM186 175h2v1h-2zM363 175h1v1h-1zM366 176h1v1h-1zM185 177h1v1h-1zM365 177h2v1h-2zM184 178h3v1h-3zM365 178h3v1h-3zM184 179h2v1h-2zM366 179h3v1h-3zM184 180h2v1h-2zM367 180h3v1h-3zM183 181h3v1h-3zM367 181h3v1h-3zM183 182h2v1h-2zM368 182h3v1h-3zM182 183h3v1h-3zM369 183h1v1h-1zM182 184h2v1h-2zM183 185h1v1h-1zM370 185h3v1h-3zM371 186h2v1h-2zM181 187h2v1h-2zM374 187h1v1h-1zM181 188h2v1h-2zM373 188h2v1h-2zM373 189h2v1h-2zM179 190h2v1h-2zM179 191h2v1h-2zM375 191h2v1h-2zM375 192h3v1h-3zM178 194h2v1h-2zM378 194h2v1h-2zM178 195h2v1h-2zM378 195h2v1h-2zM378 196h3v1h-3zM176 197h1v1h-1zM379 197h3v1h-3zM176 198h2v1h-2zM380 198h3v1h-3zM175 199h3v1h-3zM380 199h3v1h-3zM175 200h3v1h-3zM381 200h3v1h-3zM175 201h2v1h-2zM174 202h3v1h-3zM384 202h2v1h-2zM174 203h2v1h-2zM383 203h3v1h-3zM173 204h3v1h-3zM384 204h1v1h-1zM386 205h2v1h-2zM386 206h3v1h-3zM172 207h2v1h-2zM172 208h2v1h-2zM388 208h2v1h-2zM388 209h3v1h-3zM171 210h2v1h-2zM389 210h1v1h-1zM171 211h2v1h-2zM391 211h1v1h-1zM390 212h3v1h-3zM391 213h3v1h-3zM169 214h2v1h-2zM392 214h3v1h-3zM169 215h2v1h-2zM393 215h2v1h-2zM393 216h3v1h-3zM168 217h1v1h-1zM394 217h3v1h-3zM167 218h3v1h-3zM395 218h1v1h-1zM167 219h3v1h-3zM397 219h2v1h-2zM167 220h2v1h-2zM396 220h3v1h-3zM166 221h3v1h-3zM397 221h1v1h-1zM166 222h2v1h-2zM400 222h1v1h-1zM165 223h3v1h-3zM399 223h2v1h-2zM165 224h2v1h-2zM399 224h2v1h-2zM166 225h1v1h-1zM402 225h1v1h-1zM163 226h2v1h-2zM401 226h3v1h-3zM163 227h2v1h-2zM401 227h2v1h-2zM164 228h1v1h-1zM403 229h3v1h-3zM161 230h3v1h-3zM404 230h3v1h-3zM161 231h2v1h-2zM405 231h3v1h-3zM405 232h3v1h-3zM159 233h2v1h-2zM406 233h3v1h-3zM159 234h2v1h-2zM407 234h3v1h-3zM160 235h1v1h-1zM408 235h1v1h-1zM158 236h1v1h-1zM157 237h3v1h-3zM410 237h2v1h-2zM156 238h3v1h-3zM410 238h2v1h-2zM156 239h2v1h-2zM413 239h1v1h-1zM155 240h3v1h-3zM412 240h3v1h-3zM155 241h2v1h-2zM412 241h2v1h-2zM154 242h3v1h-3zM415 242h1v1h-1zM154 243h2v1h-2zM414 243h3v1h-3zM415 244h2v1h-2zM152 245h2v1h-2zM418 245h1v1h-1zM152 246h2v1h-2zM417 246h3v1h-3zM153 247h1v1h-1zM417 247h3v1h-3zM151 248h1v1h-1zM216 248h1v1h-1zM226 248h1v1h-1zM230 248h2v1h-2zM235 248h3v1h-3zM242 248h2v1h-2zM248 248h2v1h-2zM267 248h1v1h-1zM272 248h2v1h-2zM295 248h2v1h-2zM303 248h1v1h-1zM308 248h1v1h-1zM314 248h1v1h-1zM323 248h1v1h-1zM341 248h2v1h-2zM418 248h3v1h-3zM150 249h3v1h-3zM211 249h2v1h-2zM215 249h2v1h-2zM223 249h4v1h-4zM229 249h4v1h-4zM234 249h5v1h-5zM241 249h4v1h-4zM246 249h5v1h-5zM266 249h2v1h-2zM272 249h3v1h-3zM294 249h5v1h-5zM302 249h2v1h-2zM306 249h5v1h-5zM312 249h5v1h-5zM322 249h2v1h-2zM341 249h2v1h-2zM419 249h3v1h-3zM150 250h2v1h-2zM211 250h2v1h-2zM215 250h2v1h-2zM223 250h4v1h-4zM228 250h2v1h-2zM231 250h2v1h-2zM234 250h2v1h-2zM240 250h2v1h-2zM243 250h2v1h-2zM246 250h2v1h-2zM249 250h2v1h-2zM265 250h2v1h-2zM273 250h3v1h-3zM293 250h3v1h-3zM297 250h2v1h-2zM301 250h3v1h-3zM305 250h3v1h-3zM309 250h5v1h-5zM315 250h2v1h-2zM322 250h2v1h-2zM340 250h3v1h-3zM420 250h3v1h-3zM211 251h6v1h-6zM218 251h4v1h-4zM223 251h4v1h-4zM228 251h5v1h-5zM234 251h5v1h-5zM240 251h5v1h-5zM246 251h1v1h-1zM249 251h2v1h-2zM252 251h2v1h-2zM259 251h2v1h-2zM262 251h5v1h-5zM269 251h4v1h-4zM274 251h2v1h-2zM282 251h3v1h-3zM287 251h1v1h-1zM294 251h1v1h-1zM297 251h2v1h-2zM300 251h4v1h-4zM305 251h2v1h-2zM309 251h4v1h-4zM315 251h2v1h-2zM322 251h2v1h-2zM325 251h11v1h-11zM340 251h2v1h-2zM343 251h5v1h-5zM421 251h3v1h-3zM148 252h3v1h-3zM211 252h16v1h-16zM228 252h5v1h-5zM234 252h2v1h-2zM237 252h8v1h-8zM248 252h3v1h-3zM252 252h2v1h-2zM259 252h8v1h-8zM269 252h2v1h-2zM274 252h2v1h-2zM281 252h5v1h-5zM287 252h2v1h-2zM296 252h2v1h-2zM300 252h4v1h-4zM305 252h2v1h-2zM309 252h4v1h-4zM315 252h2v1h-2zM322 252h8v1h-8zM331 252h2v1h-2zM334 252h2v1h-2zM339 252h2v1h-2zM343 252h2v1h-2zM346 252h2v1h-2zM148 253h2v1h-2zM211 253h2v1h-2zM215 253h12v1h-12zM228 253h2v1h-2zM232 253h2v1h-2zM238 253h4v1h-4zM244 253h2v1h-2zM247 253h3v1h-3zM260 253h6v1h-6zM269 253h2v1h-2zM274 253h2v1h-2zM281 253h2v1h-2zM284 253h4v1h-4zM295 253h3v1h-3zM299 253h8v1h-8zM309 253h4v1h-4zM315 253h2v1h-2zM322 253h4v1h-4zM327 253h2v1h-2zM331 253h2v1h-2zM334 253h2v1h-2zM339 253h2v1h-2zM343 253h5v1h-5zM424 253h2v1h-2zM211 254h2v1h-2zM215 254h5v1h-5zM221 254h6v1h-6zM228 254h2v1h-2zM231 254h5v1h-5zM237 254h5v1h-5zM243 254h6v1h-6zM252 254h2v1h-2zM260 254h3v1h-3zM264 254h2v1h-2zM269 254h2v1h-2zM274 254h2v1h-2zM282 254h1v1h-1zM286 254h1v1h-1zM294 254h3v1h-3zM302 254h2v1h-2zM305 254h3v1h-3zM309 254h5v1h-5zM315 254h2v1h-2zM322 254h7v1h-7zM331 254h2v1h-2zM334 254h2v1h-2zM338 254h2v1h-2zM343 254h2v1h-2zM346 254h2v1h-2zM423 254h3v1h-3zM147 255h1v1h-1zM211 255h2v1h-2zM215 255h2v1h-2zM218 255h4v1h-4zM223 255h4v1h-4zM229 255h4v1h-4zM234 255h5v1h-5zM241 255h13v1h-13zM261 255h2v1h-2zM265 255h2v1h-2zM269 255h2v1h-2zM274 255h2v1h-2zM293 255h6v1h-6zM302 255h2v1h-2zM306 255h5v1h-5zM312 255h5v1h-5zM322 255h2v1h-2zM325 255h4v1h-4zM331 255h2v1h-2zM334 255h2v1h-2zM337 255h3v1h-3zM343 255h5v1h-5zM424 255h1v1h-1zM146 256h3v1h-3zM265 256h2v1h-2zM274 256h2v1h-2zM337 256h2v1h-2zM426 256h2v1h-2zM145 257h3v1h-3zM265 257h3v1h-3zM273 257h2v1h-2zM336 257h3v1h-3zM426 257h3v1h-3zM145 258h2v1h-2zM266 258h3v1h-3zM272 258h3v1h-3zM336 258h2v1h-2zM426 258h1v1h-1zM144 259h3v1h-3zM428 259h2v1h-2zM144 260h2v1h-2zM428 260h3v1h-3zM143 261h3v1h-3zM429 261h1v1h-1zM144 262h1v1h-1zM431 262h2v1h-2zM431 263h2v1h-2zM141 264h3v1h-3zM431 264h3v1h-3zM141 265h2v1h-2zM432 265h3v1h-3zM433 266h3v1h-3zM139 267h2v1h-2zM434 267h3v1h-3zM139 268h3v1h-3zM435 268h2v1h-2zM140 269h1v1h-1zM435 269h1v1h-1zM138 270h1v1h-1zM437 270h2v1h-2zM137 271h3v1h-3zM437 271h3v1h-3zM138 272h2v1h-2zM440 273h2v1h-2zM136 274h2v1h-2zM440 274h2v1h-2zM135 275h3v1h-3zM440 275h1v1h-1zM134 276h3v1h-3zM442 276h2v1h-2zM134 277h2v1h-2zM442 277h2v1h-2zM133 278h3v1h-3zM133 279h2v1h-2zM445 279h1v1h-1zM132 280h3v1h-3zM444 280h3v1h-3zM133 281h1v1h-1zM445 281h3v1h-3zM131 282h1v1h-1zM446 282h3v1h-3zM130 283h3v1h-3zM447 283h2v1h-2zM131 284h2v1h-2zM447 284h3v1h-3zM448 285h3v1h-3zM129 286h2v1h-2zM128 287h3v1h-3zM451 287h2v1h-2zM451 288h2v1h-2zM127 289h2v1h-2zM451 289h1v1h-1zM126 290h3v1h-3zM125 292h1v1h-1zM125 293h2v1h-2zM125 294h2v1h-2z"/>
</svg>
</body></html>
